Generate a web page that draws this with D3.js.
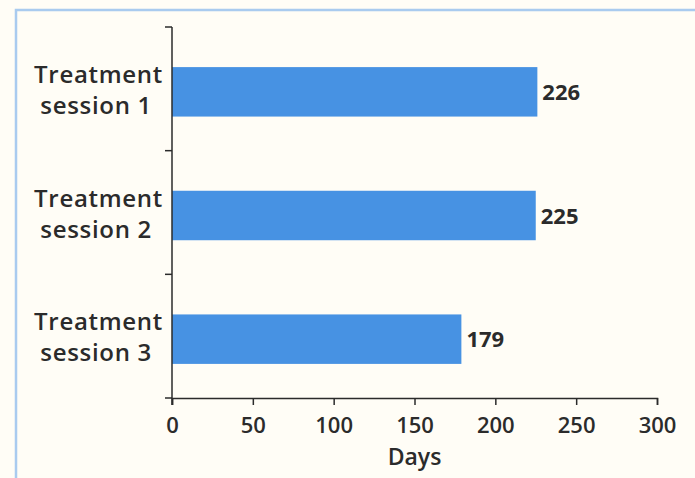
<!DOCTYPE html>
<html>
<head>
<meta charset="utf-8">
<style>
  body { margin: 0; background: #fffdf6; }
  svg { display: block; }
</style>
</head>
<body>
<svg width="695" height="478"></svg>
<script src="https://d3js.org/d3.v7.min.js"></script>
<script>
// data
const sessions = ["Treatment session 1", "Treatment session 2", "Treatment session 3"];
const days = [226, 225, 179];
const xTicks = [0, 50, 100, 150, 200, 250, 300];

const width = 695, height = 478;
const margin = {top: 27, right: 38, bottom: 80, left: 172};

const svg = d3.select("svg");

// pale frame along the top and left
svg.append("rect").attr("width", width).attr("height", height).attr("fill", "#fffdf6");
svg.append("path")
  .attr("d", `M16,${height} V10 H${width}`)
  .attr("fill", "none").attr("stroke", "#a9cbef").attr("stroke-width", 2.5);

const x = d3.scaleLinear().domain([0, 300]).range([margin.left, width - margin.right]);
const y = d3.scaleBand().domain(sessions).range([margin.top, height - margin.bottom])
  .paddingInner(0.6).paddingOuter(0.3);

const ink = "#2b2b2b";
const font = "'Open Sans', Lato, sans-serif";

// bars
svg.selectAll(".bar").data(sessions).enter().append("rect")
  .attr("class", "bar")
  .attr("x", x(0))
  .attr("y", d => y(d) + 3)
  .attr("width", (d, i) => x(days[i]) - x(0))
  .attr("height", y.bandwidth())
  .attr("fill", "#4792e3");

// value labels
svg.selectAll(".val").data(sessions).enter().append("text")
  .attr("x", (d, i) => x(days[i]) + 5)
  .attr("y", d => y(d) + y.bandwidth() / 2 + 11)
  .attr("fill", ink)
  .attr("font-family", font).attr("font-weight", 700).attr("font-size", "22px")
  .text((d, i) => days[i]);

// y axis: line with ticks between categories
const yBottom = height - margin.bottom;
const step = (yBottom - margin.top) / sessions.length;
const yAxis = svg.append("g");
yAxis.append("line")
  .attr("x1", x(0)).attr("x2", x(0))
  .attr("y1", margin.top).attr("y2", yBottom + 7)
  .attr("stroke", ink).attr("stroke-width", 1.5);
yAxis.selectAll("line.tk").data(d3.range(sessions.length + 1)).enter().append("line")
  .attr("class", "tk")
  .attr("x1", x(0) - 7).attr("x2", x(0))
  .attr("y1", i => margin.top + i * step).attr("y2", i => margin.top + i * step)
  .attr("stroke", ink).attr("stroke-width", 1.5);

// category labels, two lines each
svg.selectAll(".cat").data(sessions).enter().append("text")
  .attr("text-anchor", "end")
  .attr("fill", ink)
  .attr("font-family", font).attr("font-weight", 600).attr("font-size", "24px")
  .attr("letter-spacing", "0.7px")
  .each(function(d) {
    const words = d.split(" ");
    const cy = y(d) + y.bandwidth() / 2 + 3;
    const t = d3.select(this);
    t.append("tspan").attr("x", 163).attr("y", cy - 9).text(words[0]);
    t.append("tspan").attr("x", 152).attr("y", cy + 22).text(words.slice(1).join(" "));
  });

// x axis
const xAxis = svg.append("g")
  .attr("transform", `translate(0,${yBottom})`)
  .call(d3.axisBottom(x).tickValues(xTicks).tickSize(7).tickSizeOuter(7).tickPadding(12));
xAxis.select(".domain").attr("stroke", ink).attr("stroke-width", 1.5);
xAxis.selectAll(".tick line").attr("stroke", ink).attr("stroke-width", 1.5);
xAxis.selectAll("text")
  .attr("fill", ink)
  .attr("font-family", font).attr("font-weight", 600).attr("font-size", "22px");

svg.append("text")
  .attr("x", (x(0) + x(300)) / 2)
  .attr("y", 465)
  .attr("text-anchor", "middle")
  .attr("fill", ink)
  .attr("font-family", font).attr("font-weight", 600).attr("font-size", "23px")
  .text("Days");
</script>
</body>
</html>
